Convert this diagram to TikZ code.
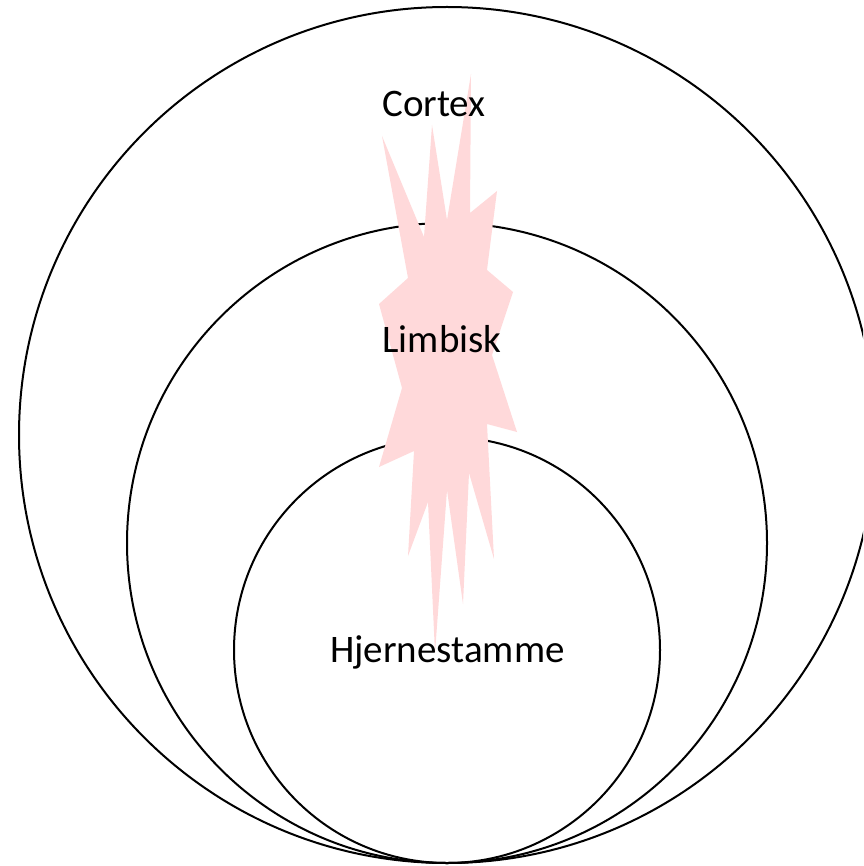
\documentclass[tikz,border=0pt]{standalone}
\usepackage{fontspec}
\setmainfont{Carlito}
\usetikzlibrary{positioning}
\definecolor{ringink}{HTML}{000000}
\definecolor{burstpink}{HTML}{FFD9DA}

\begin{document}
\begin{tikzpicture}[x=1pt, y=-1pt, line width=2pt,
    lbl/.style={anchor=base, inner sep=0pt, font=\fontsize{39}{45}\selectfont}]
  \useasboundingbox (0,0) rectangle (863,866);
  \clip (0,0) rectangle (863,866);
  % nested rings, all touching at the bottom
  \foreach \cy/\r in {435/428, 543/320, 650/213}{%
    \draw[ringink] (447,\cy) circle[radius=\r pt];}
  % the burst
  \fill[burstpink] (471,74) -- (470,213) -- (497,191) -- (487,270) -- (513,292)
    -- (492,355) -- (517,432) -- (487,424) -- (494,559) -- (469,473)
    -- (463,604) -- (447,490) -- (435,653) -- (428,502) -- (408,556)
    -- (414,451) -- (379,467) -- (402,388) -- (379,304) -- (408,278)
    -- (382,136) -- (424,237) -- (432,125) -- (447,220) -- cycle;
  \node[lbl] (cortex) at (434,117) {Cortex};
  \node[lbl] (limbisk) at (442,352) {Limbisk};
  \node[lbl] (stamme) at (447.5,662) {Hjernestamme};
\end{tikzpicture}
\end{document}
